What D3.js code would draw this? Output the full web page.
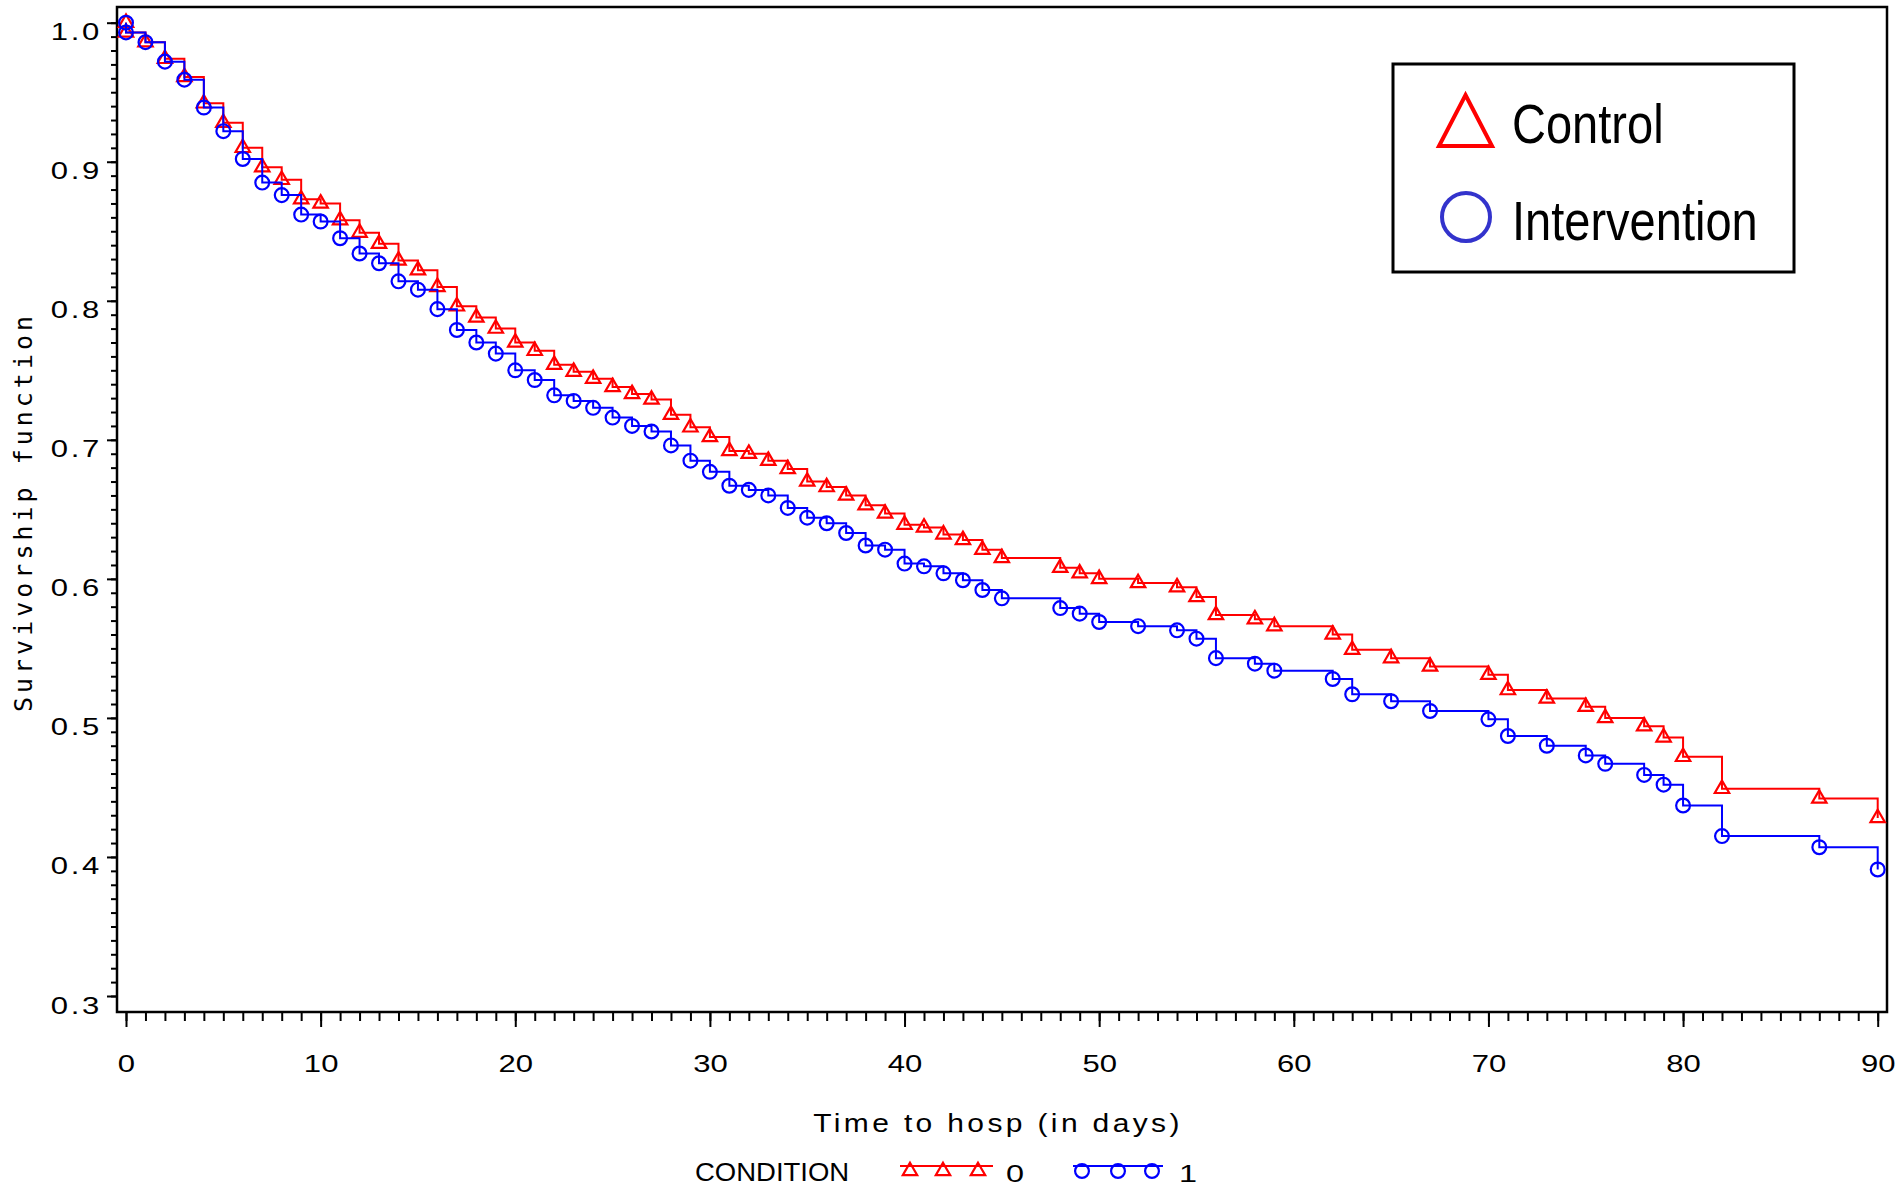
<!DOCTYPE html>
<html>
<head>
<meta charset="utf-8">
<script src="https://cdn.jsdelivr.net/npm/d3@7"></script>
<style>
  body { margin: 0; background: #fff; }
  svg { display: block; background: #fff; }
</style>
</head>
<body>
<div id="chart"></div>
<script>
// Event days (day 0 appears twice: start at 1.0, then the first drop)
const days = [0, 0, 1, 2, 3, 4, 5, 6, 7, 8, 9, 10, 11, 12, 13, 14, 15, 16, 17, 18, 19, 20,
    21, 22, 23, 24, 25, 26, 27, 28, 29, 30, 31, 32, 33, 34, 35, 36, 37, 38, 39, 40,
    41, 42, 43, 44, 45, 48, 49, 50, 52, 54, 55, 56, 58, 59, 62, 63, 65, 67, 70, 71,
    73, 75, 76, 78, 79, 80, 82, 87, 90];
// Survivorship, CONDITION 0 (Control)
const control = [1.000, 0.993, 0.986, 0.974, 0.961, 0.942, 0.928, 0.910, 0.896, 0.887, 0.873, 0.870,
    0.858, 0.849, 0.841, 0.829, 0.822, 0.810, 0.796, 0.788, 0.780, 0.770, 0.764, 0.754,
    0.749, 0.744, 0.738, 0.733, 0.729, 0.718, 0.709, 0.702, 0.692, 0.690, 0.685, 0.679,
    0.670, 0.666, 0.660, 0.653, 0.647, 0.639, 0.637, 0.632, 0.628, 0.621, 0.615, 0.608,
    0.604, 0.600, 0.597, 0.594, 0.587, 0.574, 0.571, 0.566, 0.560, 0.549, 0.543, 0.537,
    0.531, 0.520, 0.514, 0.508, 0.500, 0.494, 0.486, 0.472, 0.449, 0.442, 0.428];
// Survivorship, CONDITION 1 (Intervention)
const intervention = [1.000, 0.993, 0.986, 0.972, 0.959, 0.939, 0.922, 0.902, 0.885, 0.876, 0.862, 0.857,
    0.845, 0.834, 0.827, 0.814, 0.808, 0.794, 0.779, 0.770, 0.762, 0.750, 0.743, 0.732,
    0.728, 0.723, 0.716, 0.710, 0.706, 0.696, 0.685, 0.677, 0.667, 0.664, 0.660, 0.651,
    0.644, 0.640, 0.633, 0.624, 0.621, 0.611, 0.609, 0.604, 0.599, 0.592, 0.586, 0.579,
    0.575, 0.569, 0.566, 0.563, 0.557, 0.543, 0.539, 0.534, 0.528, 0.517, 0.512, 0.505,
    0.499, 0.487, 0.480, 0.473, 0.467, 0.459, 0.452, 0.437, 0.415, 0.407, 0.391];
const yTicks = [0.3, 0.4, 0.5, 0.6, 0.7, 0.8, 0.9, 1.0];
const xTicks = [0, 10, 20, 30, 40, 50, 60, 70, 80, 90];
const legendLabels = ["Control", "Intervention"];
const conditionKeys = ["0", "1"];

const W = 1895, H = 1189;
const frame = {left: 117, right: 1887, top: 7, bottom: 1012};
const red = "#ff0000", blue = "#0000ff";
const font = "'Liberation Sans', Arial, sans-serif";
const sx = 1.35; // SAS tick font is wide

const x = d3.scaleLinear().domain([0, 90]).range([126, 1877.7]);
const y = d3.scaleLinear().domain([0.3, 1.0]).range([996, 22.7]);

const svg = d3.select("#chart").append("svg")
    .attr("width", W)
    .attr("height", H);

// Minor y ticks (every 0.01)
svg.append("g")
    .attr("transform", "translate(" + frame.left + ",0)")
    .call(d3.axisLeft(y).tickValues(d3.range(30, 101).map(d => d / 100)).tickSize(6).tickFormat(""))
    .call(g => g.select(".domain").remove())
    .selectAll("line").attr("stroke-width", 2);

// Major y ticks + labels
const yAxis = svg.append("g")
    .attr("transform", "translate(" + frame.left + ",0)")
    .call(d3.axisLeft(y).tickValues(yTicks).tickSize(10).tickFormat(d3.format(".1f")));
yAxis.select(".domain").remove();
yAxis.selectAll("line").attr("stroke-width", 2);
yAxis.selectAll("text")
    .attr("x", -15 / sx)
    .attr("dy", null)
    .attr("y", 17)
    .attr("transform", "scale(" + sx + ",1)")
    .attr("fill", "#000")
    .style("font-family", font)
    .style("font-size", "23px")
    .style("letter-spacing", "2px");

// Minor x ticks (every day)
svg.append("g")
    .attr("transform", "translate(0," + frame.bottom + ")")
    .call(d3.axisBottom(x).tickValues(d3.range(0, 91)).tickSize(9).tickFormat(""))
    .call(g => g.select(".domain").remove())
    .selectAll("line").attr("stroke-width", 2);

// Major x ticks + labels
const xAxis = svg.append("g")
    .attr("transform", "translate(0," + frame.bottom + ")")
    .call(d3.axisBottom(x).tickValues(xTicks).tickSize(15).tickFormat(d3.format("d")));
xAxis.select(".domain").remove();
xAxis.selectAll("line").attr("stroke-width", 2);
xAxis.selectAll("text")
    .attr("dy", null)
    .attr("y", 60)
    .attr("transform", "scale(" + sx + ",1)")
    .attr("fill", "#000")
    .style("font-family", font)
    .style("font-size", "23px");

// Plot frame
svg.append("rect")
    .attr("x", frame.left)
    .attr("y", frame.top)
    .attr("width", frame.right - frame.left)
    .attr("height", frame.bottom - frame.top)
    .attr("fill", "none")
    .attr("stroke", "#000")
    .attr("stroke-width", 2.5);

// Survival curves
const series = [
    {key: "0", color: red, shape: d3.symbolTriangle, size: 90, values: days.map((d, i) => [d, control[i]])},
    {key: "1", color: blue, shape: d3.symbolCircle, size: 150, values: days.map((d, i) => [d, intervention[i]])}
];
const step = d3.line()
    .curve(d3.curveStepAfter)
    .x(d => x(d[0]))
    .y(d => y(d[1]));

series.forEach(function(s) {
    svg.append("path")
        .datum(s.values)
        .attr("fill", "none")
        .attr("stroke", s.color)
        .attr("stroke-width", 2)
        .attr("d", step);
    svg.append("g")
        .selectAll("path")
        .data(s.values)
        .enter().append("path")
            .attr("transform", d => "translate(" + x(d[0]) + "," + y(d[1]) + ")")
            .attr("d", d3.symbol(s.shape, s.size))
            .attr("fill", "none")
            .attr("stroke", s.color)
            .attr("stroke-width", 2.2);
});

// Axis titles
svg.append("text")
    .attr("transform", "translate(32,512) rotate(-90)")
    .attr("text-anchor", "middle")
    .style("font-family", "'DejaVu Sans Mono', monospace")
    .style("font-size", "25px")
    .style("letter-spacing", "4px")
    .text("Survivorship function");

svg.append("text")
    .attr("transform", "translate(998,1132) scale(1.2,1)")
    .attr("text-anchor", "middle")
    .style("font-family", font)
    .style("font-size", "25px")
    .style("letter-spacing", "2.8px")
    .text("Time to hosp (in days)");

// Bottom CONDITION legend
svg.append("text")
    .attr("transform", "translate(695,1181) scale(1.1,1)")
    .style("font-family", font)
    .style("font-size", "25px")
    .text("CONDITION");

const keyPos = [{x0: 900, x1: 993, marks: [910, 943, 978], label: 1006},
                {x0: 1073, x1: 1163, marks: [1082, 1118, 1152], label: 1179}];
series.forEach(function(s, i) {
    const k = keyPos[i];
    const g = svg.append("g");
    g.append("line")
        .attr("x1", k.x0).attr("x2", k.x1)
        .attr("y1", 1166).attr("y2", 1166)
        .attr("stroke", s.color)
        .attr("stroke-width", 2);
    g.selectAll("path")
        .data(k.marks)
        .enter().append("path")
            .attr("transform", d => "translate(" + d + ",1171)")
            .attr("d", d3.symbol(s.shape, s.size))
            .attr("fill", "none")
            .attr("stroke", s.color)
            .attr("stroke-width", 2.2);
    g.append("text")
        .attr("transform", "translate(" + k.label + ",1182) scale(" + sx + ",1)")
        .style("font-family", font)
        .style("font-size", "24px")
        .text(conditionKeys[i]);
});

// Inset legend box
const box = svg.append("g");
box.append("rect")
    .attr("x", 1393).attr("y", 64)
    .attr("width", 401).attr("height", 208)
    .attr("fill", "#fff")
    .attr("stroke", "#000")
    .attr("stroke-width", 3);
box.append("path")
    .attr("d", "M1465.5,95L1492,146L1439,146Z")
    .attr("fill", "none")
    .attr("stroke", red)
    .attr("stroke-width", 4);
box.append("circle")
    .attr("cx", 1466).attr("cy", 217).attr("r", 24)
    .attr("fill", "none")
    .attr("stroke", "#3333cc")
    .attr("stroke-width", 4);
box.selectAll("text.lab")
    .data(legendLabels)
    .enter().append("text")
        .attr("class", "lab")
        .attr("transform", (d, i) => "translate(1512," + (143 + i * 97) + ") scale(0.84,1)")
        .style("font-family", font)
        .style("font-size", "56px")
        .text(d => d);
</script>
</body>
</html>
